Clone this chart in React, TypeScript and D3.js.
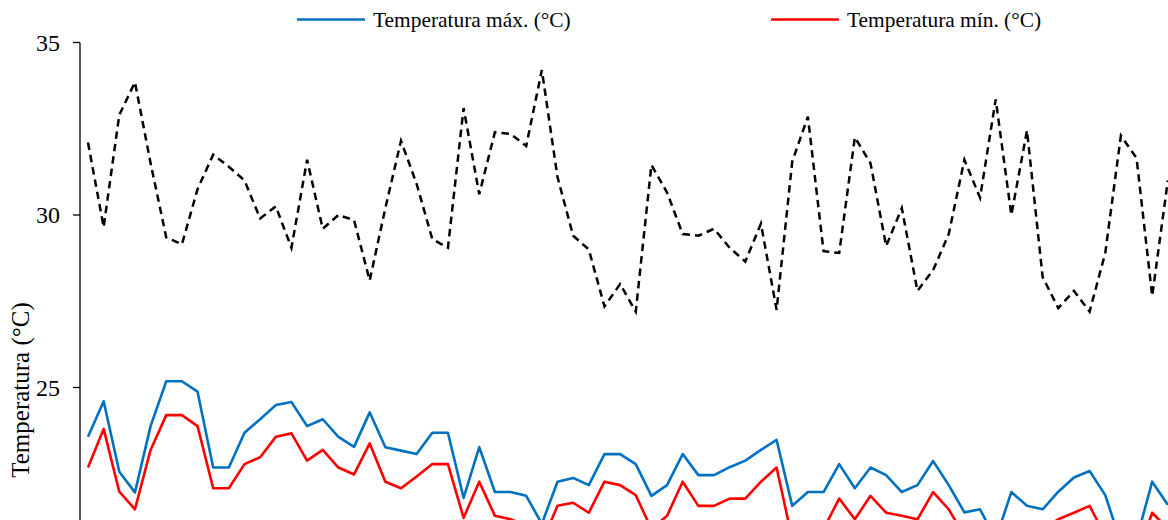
import React from "react";
import * as d3 from "d3";

const days: number[] = Array.from({ length: 70 }, (_, i) => i + 1);

const tempMax: number[] = [
  23.57, 24.6, 22.56, 21.96, 23.88, 25.18, 25.18, 24.88, 22.68, 22.68,
  23.69, 24.08, 24.49, 24.58, 23.88, 24.08, 23.57, 23.28, 24.28, 23.27,
  23.17, 23.07, 23.69, 23.69, 21.8, 23.27, 21.97, 21.97, 21.86, 21.05,
  22.27, 22.38, 22.17, 23.07, 23.07, 22.78, 21.86, 22.17, 23.07, 22.46,
  22.46, 22.69, 22.88, 23.19, 23.48, 21.57, 21.97, 21.97, 22.78, 22.08,
  22.68, 22.46, 21.97, 22.17, 22.87, 22.17, 21.38, 21.47, 20.6, 21.97,
  21.57, 21.47, 21.98, 22.39, 22.58, 21.88, 20.5, 20.6, 22.27, 21.6,
];

const tempMin: number[] = [
  22.68, 23.8, 21.98, 21.47, 23.19, 24.2, 24.2, 23.88, 22.08, 22.08,
  22.78, 22.98, 23.57, 23.67, 22.88, 23.19, 22.68, 22.48, 23.38, 22.27,
  22.08, 22.42, 22.78, 22.78, 21.22, 22.27, 21.28, 21.18, 21.0, 20.5,
  21.57, 21.66, 21.37, 22.27, 22.17, 21.88, 20.9, 21.28, 22.27, 21.57,
  21.57, 21.78, 21.78, 22.27, 22.68, 20.6, 20.8, 20.9, 21.78, 21.18,
  21.86, 21.37, 21.28, 21.18, 21.97, 21.47, 20.7, 20.6, 19.8, 20.8,
  20.9, 20.9, 21.18, 21.37, 21.57, 20.7, 19.9, 20.1, 21.37, 20.9,
];

const tempDashed: number[] = [
  32.1, 29.65, 32.9, 33.85, 31.5, 29.35, 29.15, 30.75, 31.75, 31.4,
  31.0, 29.9, 30.25, 29.05, 31.6, 29.6, 30.0, 29.85, 28.1, 30.2,
  32.15, 30.9, 29.3, 29.05, 33.1, 30.6, 32.4, 32.35, 32.0, 34.2,
  31.1, 29.4, 29.0, 27.35, 28.0, 27.2, 31.45, 30.65, 29.45, 29.4,
  29.6, 29.05, 28.65, 29.75, 27.25, 31.55, 32.85, 28.95, 28.9, 32.25,
  31.5, 29.1, 30.2, 27.8, 28.4, 29.45, 31.6, 30.5, 33.35, 30.0,
  32.45, 28.2, 27.3, 27.8, 27.2, 28.9, 32.3, 31.65, 27.65, 31.0,
];

const yTicks: number[] = [25, 30, 35];
const legendLabels: string[] = ["Temperatura máx. (°C)", "Temperatura mín. (°C)"];

const W = 1168;
const H = 520;
const FONT = "'Liberation Serif', 'Times New Roman', serif";

export default function App() {
  const x = d3
    .scalePoint<number>()
    .domain(days)
    .range([88, 88 + 69 * 15.65]);
  const y = d3.scaleLinear().domain([20, 35]).range([560, 42.5]);

  const line = (vals: number[]) =>
    d3
      .line<number>()
      .x((_, i) => x(days[i]) as number)
      .y((d) => y(d))(vals) as string;

  const axisX = 80;

  return (
    <svg
      width={W}
      height={H}
      style={{ position: "absolute", left: 0, top: 0, background: "#fff" }}
    >
      <rect x={0} y={0} width={W} height={H} fill="#fff" />
      {/* y axis */}
      <line x1={axisX} x2={axisX} y1={y(35)} y2={H} stroke="#000" strokeWidth={1.3} />
      {yTicks.map((t) => (
        <g key={t}>
          <line x1={axisX - 7} x2={axisX} y1={y(t)} y2={y(t)} stroke="#000" strokeWidth={1.3} />
          <text
            x={60}
            y={y(t)}
            dy="0.35em"
            textAnchor="end"
            fontFamily={FONT}
            fontSize={24}
            fill="#000"
          >
            {t}
          </text>
        </g>
      ))}
      <text
        transform={`translate(29, 390) rotate(-90)`}
        textAnchor="middle"
        fontFamily={FONT}
        fontSize={25}
        fill="#000"
      >
        Temperatura (°C)
      </text>

      {/* series */}
      <path d={line(tempDashed)} fill="none" stroke="#000" strokeWidth={2.5} strokeDasharray="7.5 5" />
      <path d={line(tempMax)} fill="none" stroke="#0070C0" strokeWidth={2.6} strokeLinejoin="round" />
      <path d={line(tempMin)} fill="none" stroke="#FF0000" strokeWidth={2.6} strokeLinejoin="round" />

      {/* legend */}
      {legendLabels.map((lab, i) => {
        const lx = 297 + i * 474;
        const color = i === 0 ? "#0070C0" : "#FF0000";
        return (
          <g key={lab}>
            <line x1={lx} x2={lx + 68} y1={19.5} y2={19.5} stroke={color} strokeWidth={2.6} />
            <text x={lx + 76} y={27} fontFamily={FONT} fontSize={21.4} fill="#000">
              {lab}
            </text>
          </g>
        );
      })}
    </svg>
  );
}
